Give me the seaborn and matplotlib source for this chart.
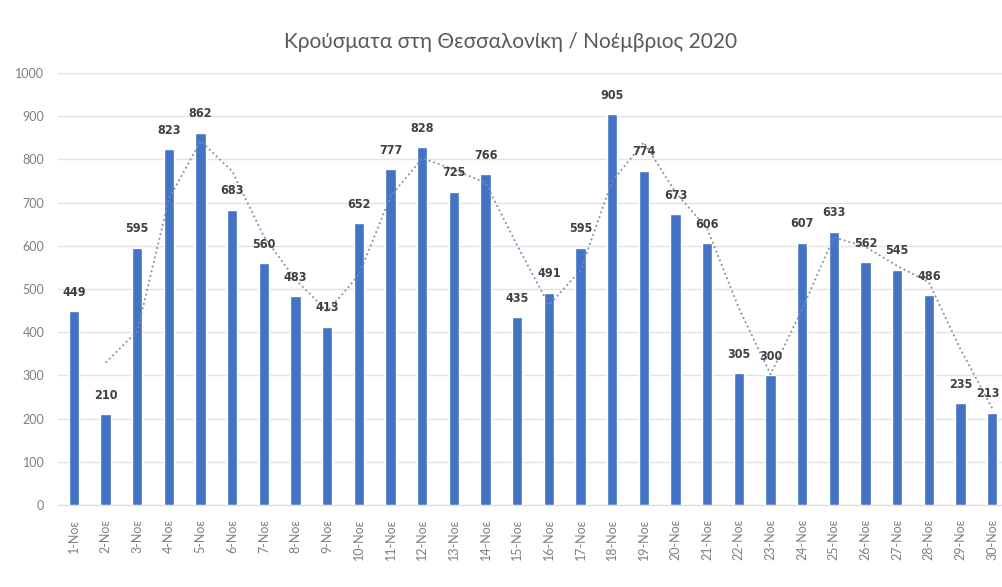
import numpy as np
import pandas as pd
import matplotlib
matplotlib.use("Agg")
import matplotlib.pyplot as plt
import seaborn as sns

# daily cases, Thessaloniki, November 2020
days = [f"{d}-Νοε" for d in range(1, 31)]
cases = [449, 210, 595, 823, 862, 683, 560, 483, 413, 652,
         777, 828, 725, 766, 435, 491, 595, 905, 774, 673,
         606, 305, 300, 607, 633, 562, 545, 486, 235, 213]

df = pd.DataFrame({"day": days, "cases": cases})
# 2-day moving average trendline (as in the Excel chart)
df["trend"] = df["cases"].rolling(2).mean()

sns.set_style("white")
plt.rcParams["font.family"] = ["Lato", "DejaVu Sans"]

fig = plt.figure(figsize=(10.02, 5.87), dpi=100)
ax = fig.add_axes([0.058, 0.1397, 0.948, 0.736])

sns.barplot(data=df, x="day", y="cases", color="#4472C4", width=0.33,
            saturation=1, ax=ax, zorder=2)
sns.lineplot(x=np.arange(len(df)), y=df["trend"], ax=ax, color="#7C8DB5",
             linestyle=":", linewidth=1.3, zorder=3)

for i, v in enumerate(cases):
    dx = -3 if i == len(cases) - 1 else 0
    ax.annotate(str(v), (i, v), xytext=(dx, 9), textcoords="offset points",
                ha="center", va="bottom", fontsize=9, fontweight="bold",
                color="#404040", family="DejaVu Sans", fontstretch="condensed")

ax.set_ylim(0, 1000)
ax.set_xlim(-0.5, len(days) - 0.5)
ax.set_yticks(range(0, 1001, 100))
ax.set_xticks(range(len(days)))
ax.set_xticklabels(days, rotation=90)
ax.tick_params(axis="both", labelsize=9, colors="#7F7F7F", length=0, pad=10)
ax.yaxis.grid(True, color="#E3E3E3", linewidth=1, zorder=0)
ax.set_axisbelow(True)
for s in ["top", "right", "left"]:
    ax.spines[s].set_visible(False)
ax.spines["bottom"].set_color("#F0D8C0")
ax.set_xlabel("")
ax.set_ylabel("")

fig.text(0.51, 0.928, "Κρούσματα στη Θεσσαλονίκη / Νοέμβριος 2020",
         ha="center", va="center", fontsize=15, color="#595959")

fig.savefig("out.png", dpi=100)
